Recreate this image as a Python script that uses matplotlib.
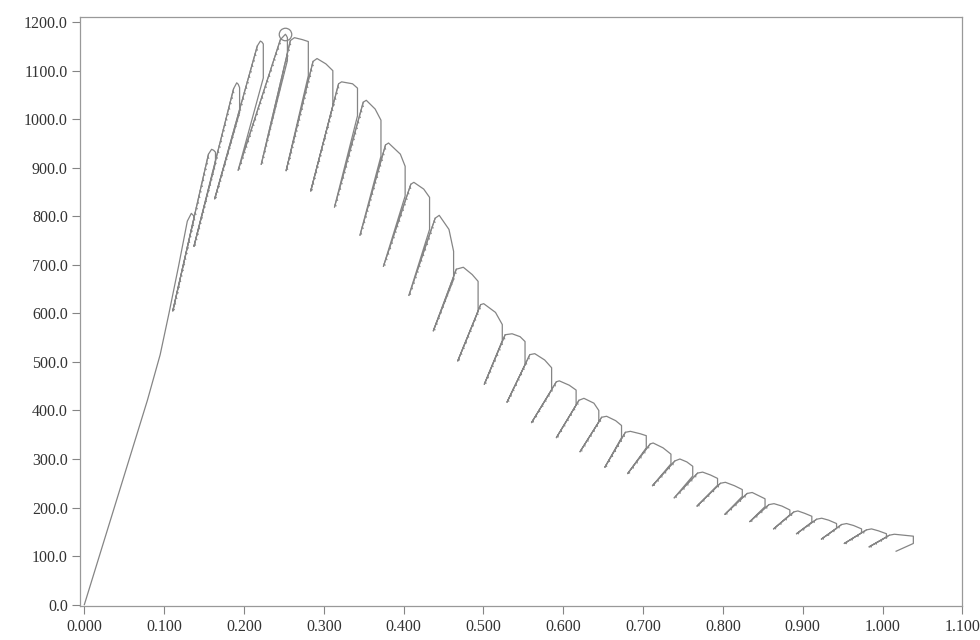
import matplotlib.pyplot as plt
import matplotlib.patheffects as pe
import numpy as np

# first loading branch (displacement, load) up to the first cap
first_x = [0.000, 0.079, 0.095, 0.106, 0.118, 0.129, 0.134, 0.137]
first_y = [0, 421, 515, 600, 697, 790, 806, 801]
first_drop = 793

# one entry per loading cycle: trough -> cap start -> peak -> shoulder -> cap end -> drop
trough_x = [0.1108, 0.1373, 0.1633, 0.1927, 0.2216, 0.2528, 0.2836, 0.3134, 0.3453, 0.3747,
            0.4066, 0.4372, 0.4678, 0.5011, 0.5295, 0.5603, 0.5914, 0.6210, 0.6521, 0.6807,
            0.7118, 0.7390, 0.7676, 0.8025, 0.8337, 0.8635, 0.8922, 0.9234, 0.9521, 0.9832]
trough_y = [605, 738, 836, 895, 907, 894, 852, 819, 761, 697,
            637, 564, 502, 454, 417, 375, 344, 315, 283, 270,
            245, 220, 203, 186, 171, 156, 146, 135, 126, 119]
start_x = [0.1555, 0.1870, 0.2167, 0.2456, 0.2581, 0.2865, 0.3185, 0.3494, 0.3773, 0.4090,
           0.4395, 0.4660, 0.4965, 0.5272, 0.5581, 0.5913, 0.6197, 0.6481, 0.6778, 0.7089,
           0.7398, 0.7683, 0.7969, 0.8304, 0.8577, 0.8889, 0.9175, 0.9487, 0.9799, 1.0086]
start_y = [928, 1063, 1151, 1164, 1162, 1119, 1073, 1035, 947, 866,
           796, 691, 618, 556, 515, 459, 421, 386, 355, 331,
           296, 271, 250, 229, 206, 191, 176, 165, 154, 143]
peak_x = [0.1594, 0.1909, 0.2205, 0.2519, 0.2632, 0.2915, 0.3223, 0.3532, 0.3811, 0.4128,
          0.4446, 0.4748, 0.5003, 0.5359, 0.5643, 0.5950, 0.6259, 0.6543, 0.6841, 0.7126,
          0.7461, 0.7746, 0.8031, 0.8367, 0.8640, 0.8939, 0.9238, 0.9549, 0.9862, 1.0148]
peak_y = [938, 1075, 1161, 1175, 1168, 1125, 1077, 1039, 951, 870,
          802, 695, 620, 558, 517, 461, 425, 388, 357, 333,
          300, 273, 252, 231, 208, 193, 178, 167, 156, 145]
shoulder_x = [0.1620, 0.1928, 0.2225, 0.2532, 0.2731, 0.3026, 0.3360, 0.3643, 0.3959, 0.4252,
              0.4568, 0.4859, 0.5151, 0.5459, 0.5767, 0.6075, 0.6384, 0.6656, 0.6965, 0.7250,
              0.7548, 0.7845, 0.8144, 0.8454, 0.8740, 0.9026, 0.9325, 0.9637, 0.9949, 1.0261]
shoulder_y = [936, 1072, 1159, 1172, 1164, 1114, 1073, 1021, 928, 856,
              773, 680, 602, 552, 504, 452, 415, 379, 352, 323,
              294, 267, 245, 224, 203, 188, 174, 163, 152, 143]
end_x = [0.1643, 0.1945, 0.2242, 0.2544, 0.2806, 0.3113, 0.3422, 0.3716, 0.4019, 0.4325,
         0.4626, 0.4933, 0.5236, 0.5521, 0.5854, 0.6161, 0.6445, 0.6730, 0.7040, 0.7349,
         0.7622, 0.7933, 0.8243, 0.8528, 0.8839, 0.9114, 0.9424, 0.9737, 1.0049, 1.0386]
end_y = [932, 1065, 1155, 1168, 1160, 1100, 1064, 998, 903, 839,
         728, 666, 577, 542, 488, 442, 400, 369, 348, 310,
         285, 260, 237, 218, 195, 182, 167, 156, 146, 141]
drop_y = [910, 1014, 1085, 1121, 1090, 1028, 1007, 924, 842, 773,
          670, 604, 544, 494, 442, 411, 376, 344, 323, 290,
          265, 246, 223, 202, 185, 170, 157, 148, 139, 126]
last_x, last_y = 1.0170, 110

# build the full test record in order
px = list(first_x) + [first_x[-1]]
py = list(first_y) + [first_drop]
for i in range(len(trough_x)):
    px += [trough_x[i], start_x[i], peak_x[i], shoulder_x[i], end_x[i], end_x[i]]
    py += [trough_y[i], start_y[i], peak_y[i], shoulder_y[i], end_y[i], drop_y[i]]
px.append(last_x)
py.append(last_y)

gray = '#858585'
plt.rcParams['font.family'] = ['Liberation Serif', 'DejaVu Serif']

fig = plt.figure(figsize=(9.8, 6.4), dpi=100)
ax = fig.add_axes([0.082, 0.053, 0.900, 0.920])

ax.plot(px, py, color=gray, linewidth=0.9)

# serrated reloading branches
for i in range(len(trough_x)):
    ax.plot([trough_x[i], start_x[i]], [trough_y[i], start_y[i]], color=gray, linewidth=0.8,
            path_effects=[pe.withTickedStroke(spacing=4, angle=-135, length=0.3, linewidth=0.8)])

# maximum load marker
imax = int(np.argmax(peak_y))
ax.plot(peak_x[imax], peak_y[imax], 'o', mfc='none', mec=gray, ms=9, mew=0.9)

ax.set_xlim(-0.005, 1.1)
ax.set_ylim(-3, 1210)
ax.set_xticks(np.arange(0, 1.1001, 0.1))
ax.set_xticklabels([f'{v:.3f}' for v in np.arange(0, 1.1001, 0.1)])
ax.set_yticks(np.arange(0, 1200.1, 100))
ax.set_yticklabels([f'{v:.1f}' for v in np.arange(0, 1200.1, 100)])
ax.tick_params(direction='out', length=6, width=0.8, color=gray, labelsize=11.5,
               labelcolor='#333333', pad=3)
for s in ax.spines.values():
    s.set_color('#999999')
    s.set_linewidth(0.9)

fig.savefig('out.png', dpi=100)
